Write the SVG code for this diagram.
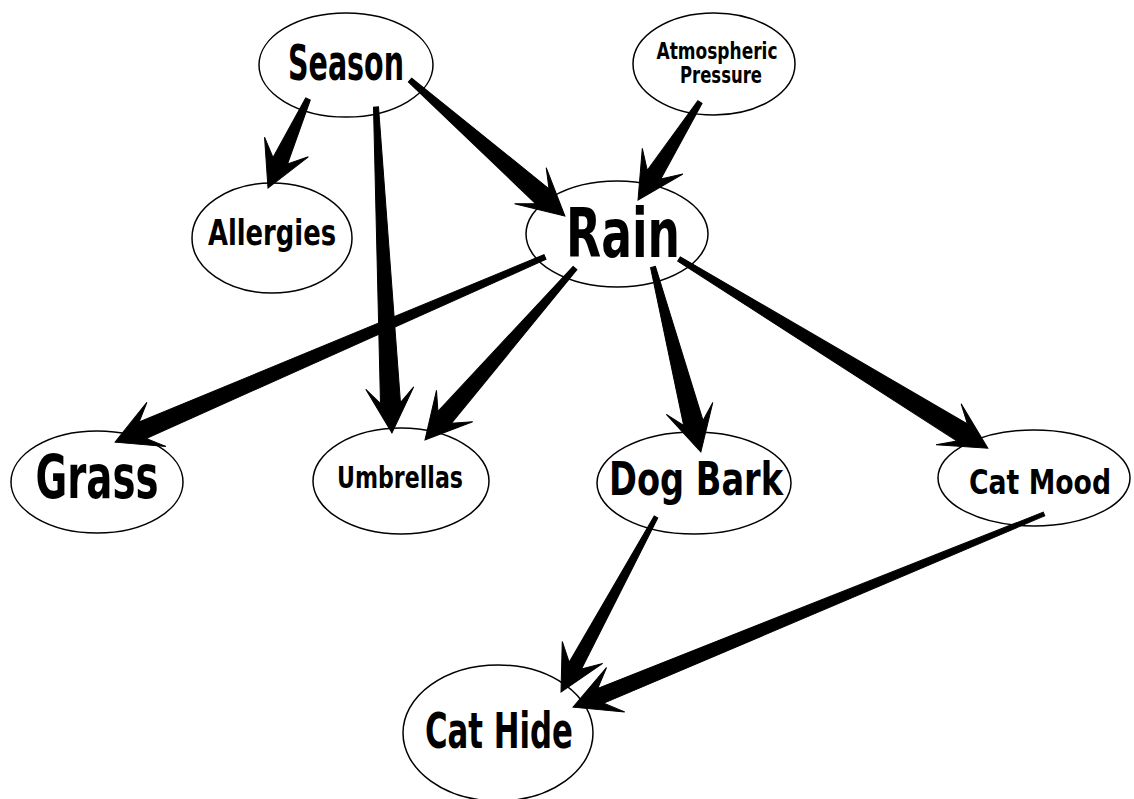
<svg xmlns="http://www.w3.org/2000/svg" width="1134" height="799" viewBox="0 0 1134 799">
<style>
.node ellipse{fill:#fff;stroke:#000;stroke-width:1.5}
.node text{font-family:"DejaVu Sans Condensed","DejaVu Sans",sans-serif;font-weight:bold;text-anchor:middle;fill:#000}
.arrow{fill:#000;stroke:#000;stroke-width:1;stroke-linejoin:miter}
</style>
<rect width="1134" height="799" fill="#fff"/>
<g id="season" class="node"><ellipse cx="346" cy="65" rx="87" ry="52"/><text x="346" y="80" font-size="50" textLength="116" lengthAdjust="spacingAndGlyphs">Season</text></g>
<g id="atmospheric-pressure" class="node"><ellipse cx="714" cy="64" rx="81" ry="51"/><text x="717" y="59" font-size="23" textLength="121" lengthAdjust="spacingAndGlyphs">Atmospheric</text><text x="721" y="83" font-size="23" textLength="82" lengthAdjust="spacingAndGlyphs">Pressure</text></g>
<g id="rain" class="node"><ellipse cx="617" cy="234" rx="91" ry="53"/><text x="623" y="257" font-size="68" textLength="114" lengthAdjust="spacingAndGlyphs">Rain</text></g>
<g id="allergies" class="node"><ellipse cx="272" cy="238" rx="80" ry="55"/><text x="272" y="245" font-size="35" textLength="128" lengthAdjust="spacingAndGlyphs">Allergies</text></g>
<g id="grass" class="node"><ellipse cx="97" cy="482" rx="86" ry="51"/><text x="97" y="498" font-size="60" textLength="123" lengthAdjust="spacingAndGlyphs">Grass</text></g>
<g id="umbrellas" class="node"><ellipse cx="401" cy="481" rx="88" ry="53"/><text x="400" y="488" font-size="31" textLength="126" lengthAdjust="spacingAndGlyphs">Umbrellas</text></g>
<g id="dog-bark" class="node"><ellipse cx="694" cy="483" rx="97" ry="51"/><text x="696" y="495" font-size="47" textLength="174" lengthAdjust="spacingAndGlyphs">Dog Bark</text></g>
<g id="cat-mood" class="node"><ellipse cx="1034" cy="478" rx="96" ry="48"/><text x="1040" y="494" font-size="33" textLength="142" lengthAdjust="spacingAndGlyphs">Cat Mood</text></g>
<g id="cat-hide" class="node"><ellipse cx="498" cy="733" rx="95" ry="68"/><text x="499" y="748" font-size="50" textLength="148" lengthAdjust="spacingAndGlyphs">Cat Hide</text></g>
<g id="connectors">
<polygon class="arrow" transform="translate(308,99) rotate(114.2)" points="0,-2.5 67.6,-8 52.6,-24 97.6,0 52.6,24 67.6,8 0,2.5"/>
<polygon class="arrow" transform="translate(376,107) rotate(87.2)" points="0,-2.5 296.4,-10 281.4,-24 326.4,0 281.4,24 296.4,10 0,2.5"/>
<polygon class="arrow" transform="translate(410,80) rotate(41.3)" points="0,-2.5 176.2,-10 160.2,-24 206.2,0 160.2,24 176.2,10 0,2.5"/>
<polygon class="arrow" transform="translate(700,102) rotate(122.3)" points="0,-2.5 86,-8 70,-24 116,0 70,24 86,8 0,2.5"/>
<polygon class="arrow" transform="translate(545,257) rotate(156.7)" points="0,-2.5 438.1,-9 423.1,-24 468.1,0 423.1,24 438.1,9 0,2.5"/>
<polygon class="arrow" transform="translate(575,268) rotate(131.1)" points="0,-2.5 198.2,-9 183.2,-24 228.2,0 183.2,24 198.2,9 0,2.5"/>
<polygon class="arrow" transform="translate(653,267) rotate(75.5)" points="0,-2.5 161.1,-10 146.1,-24 191.1,0 146.1,24 161.1,10 0,2.5"/>
<polygon class="arrow" transform="translate(679,259) rotate(31.5)" points="0,-2.5 332.2,-10 316.2,-24 362.2,0 316.2,24 332.2,10 0,2.5"/>
<polygon class="arrow" transform="translate(656,517) rotate(118.5)" points="0,-2 169.1,-7 154.1,-23 199.1,0 154.1,23 169.1,7 0,2"/>
<polygon class="arrow" transform="translate(1044,514) rotate(157.7)" points="0,-2 479,-8 463,-24 509,0 463,24 479,8 0,2"/>
</g>
</svg>
